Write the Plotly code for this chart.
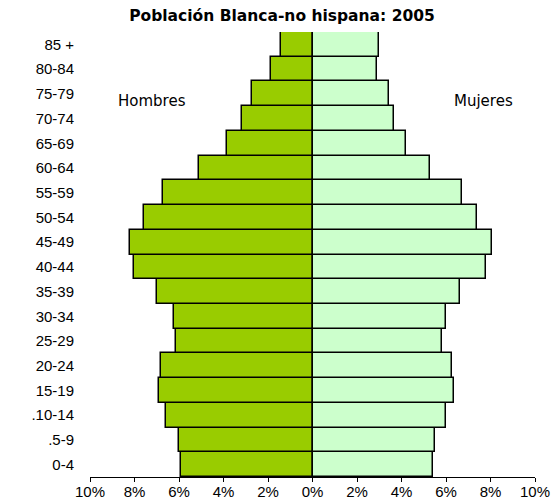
import plotly.graph_objects as go

age_groups = ["0-4", ".5-9", ".10-14", "15-19", "20-24", "25-29", "30-34", "35-39",
              "40-44", "45-49", "50-54", "55-59", "60-64", "65-69", "70-74", "75-79",
              "80-84", "85 +"]
hombres = [5.91, 6.00, 6.57, 6.90, 6.81, 6.15, 6.24, 6.99, 8.04, 8.21, 7.56, 6.72,
           5.08, 3.85, 3.19, 2.71, 1.87, 1.40]
mujeres = [5.42, 5.51, 5.99, 6.35, 6.26, 5.84, 5.99, 6.65, 7.81, 8.05, 7.39, 6.73,
           5.27, 4.19, 3.68, 3.44, 2.88, 2.97]
x_ticks = [-10, -8, -6, -4, -2, 0, 2, 4, 6, 8, 10]
x_tick_labels = ["10%", "8%", "6%", "4%", "2%", "0%", "2%", "4%", "6%", "8%", "10%"]

FONT = "Liberation Sans, Arial, sans-serif"
WIDE = "DejaVu Sans, Verdana, sans-serif"

fig = go.Figure()
fig.add_trace(go.Bar(
    y=age_groups, x=[-v for v in hombres], orientation="h", name="Hombres",
    marker=dict(color="#99CC00", line=dict(color="black", width=1.5)),
))
fig.add_trace(go.Bar(
    y=age_groups, x=mujeres, orientation="h", name="Mujeres",
    marker=dict(color="#CCFFCC", line=dict(color="black", width=1.5)),
))

# page body has an 8px default margin: size/margins compensate for it
fig.update_layout(
    width=552, height=496,
    margin=dict(l=81.5, r=24.5, t=24, b=27, pad=0),
    paper_bgcolor="white", plot_bgcolor="white",
    barmode="overlay", bargap=0,
    showlegend=False,
    font=dict(family=FONT, size=15, color="black"),
    title=dict(text="<b>Población Blanca-no hispana: 2005</b>",
               x=274 / 552, xanchor="center", y=1 - 8 / 496, yanchor="middle",
               font=dict(family=WIDE, size=15.5, color="black")),
    xaxis=dict(range=[-10, 10], tickvals=x_ticks, ticktext=x_tick_labels,
               showgrid=False, zeroline=True, zerolinecolor="black", zerolinewidth=2,
               showline=True, linecolor="black", linewidth=1,
               ticks="outside", ticklen=4, tickcolor="black",
               ticklabelstandoff=-3,
               tickfont=dict(family=FONT, size=15)),
    yaxis=dict(showgrid=False, showline=False, ticks="", automargin=False,
               ticklabelstandoff=15, categoryorder="array", categoryarray=age_groups,
               tickfont=dict(family=FONT, size=15)),
    annotations=[
        dict(text="Hombres", x=-7.2, y=14.71, xref="x", yref="y", showarrow=False,
             font=dict(family=WIDE, size=15)),
        dict(text="Mujeres", x=7.69, y=14.71, xref="x", yref="y", showarrow=False,
             font=dict(family=WIDE, size=15)),
    ],
)
fig.update_xaxes(automargin=False)

fig.write_html("out.html")
